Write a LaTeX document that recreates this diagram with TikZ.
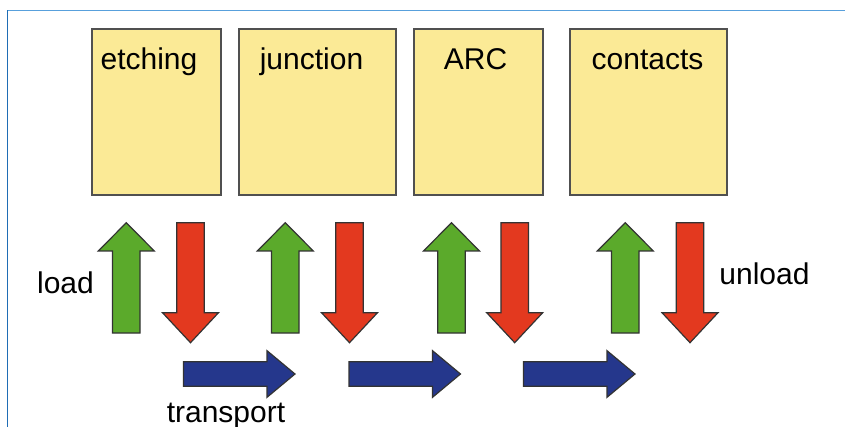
\documentclass[tikz,border=0pt]{standalone}
\usepackage{fontspec}
\setmainfont{Liberation Sans}
\definecolor{boxfill}{HTML}{FBEA96}
\definecolor{boxline}{HTML}{505050}
\definecolor{upgreen}{HTML}{5BAA2B}
\definecolor{downred}{HTML}{E3391F}
\definecolor{moveblue}{HTML}{25378C}
\definecolor{frameA}{HTML}{1F6DB5}
\definecolor{frameB}{HTML}{58A0DC}
\definecolor{arrline}{HTML}{333333}
\begin{document}
\begin{tikzpicture}[x=1pt,y=-1pt,
  station/.style={draw=boxline, line width=1.5pt, fill=boxfill, inner sep=0pt, outer sep=0pt, anchor=north west, minimum height=166pt},
  lbl/.style={font=\fontsize{30}{36}\selectfont, inner sep=0pt, anchor=base},
  arrowshape/.style={draw=arrline, line width=1.2pt, line join=miter},
  pics/uparrow/.style={code={\draw[arrowshape, fill=upgreen] (-13.75,110.3) -- (-13.75,28.3) -- (-28,28.3) -- (0,0) -- (28,28.3) -- (13.75,28.3) -- (13.75,110.3) -- cycle;}},
  pics/downarrow/.style={code={\draw[arrowshape, fill=downred] (-13.75,0) -- (-13.75,90) -- (-28,90) -- (0,120) -- (28,90) -- (13.75,90) -- (13.75,0) -- cycle;}},
  pics/rightarrow/.style={code={\draw[arrowshape, fill=moveblue] (0,-12.25) -- (83.5,-12.25) -- (83.5,-23.3) -- (111.5,0) -- (83.5,23.3) -- (83.5,12.25) -- (0,12.25) -- cycle;}}
]
\useasboundingbox (0,0) rectangle (845,427);
% frame lines
\coordinate (fc) at (7.5,10.5);
\coordinate (fr) at (845,10.5);
\coordinate (fb) at (7.5,427);
\draw[frameB, line width=1.5pt] (fc) -- (fr);
\draw[frameA, line width=1.5pt] (fc) -- (fb);
% station boxes
\node[station, minimum width=129pt] (etch) at (92,29) {};
\node[station, minimum width=157pt] (junc) at (239,29) {};
\node[station, minimum width=129pt] (arc) at (414,29) {};
\node[station, minimum width=157pt] (cont) at (570,29) {};
% box labels
\node[lbl] (etchT) at (149,70) {etching};
\node[lbl] (juncT) at (311.5,70) {junction};
\node[lbl] (arcT) at (475.5,70) {ARC};
\node[lbl] (contT) at (647.5,70) {contacts};
% load arrows
\pic (up1) at (126.3,222.7) {uparrow};
\pic (up2) at (285.3,222.7) {uparrow};
\pic (up3) at (451.5,222.7) {uparrow};
\pic (up4) at (625.3,222.7) {uparrow};
% unload arrows
\pic (dn1) at (190.5,222.7) {downarrow};
\pic (dn2) at (349.5,222.7) {downarrow};
\pic (dn3) at (514.7,222.7) {downarrow};
\pic (dn4) at (690,222.7) {downarrow};
% transport arrows
\pic (tr1) at (183.5,374) {rightarrow};
\pic (tr2) at (349,374) {rightarrow};
\pic (tr3) at (523.5,374) {rightarrow};
% side labels
\node[lbl] (loadT) at (65.5,293.3) {load};
\node[lbl] (unloadT) at (764.5,284) {unload};
\node[lbl] (transT) at (226,422.3) {transport};
\end{tikzpicture}
\end{document}
